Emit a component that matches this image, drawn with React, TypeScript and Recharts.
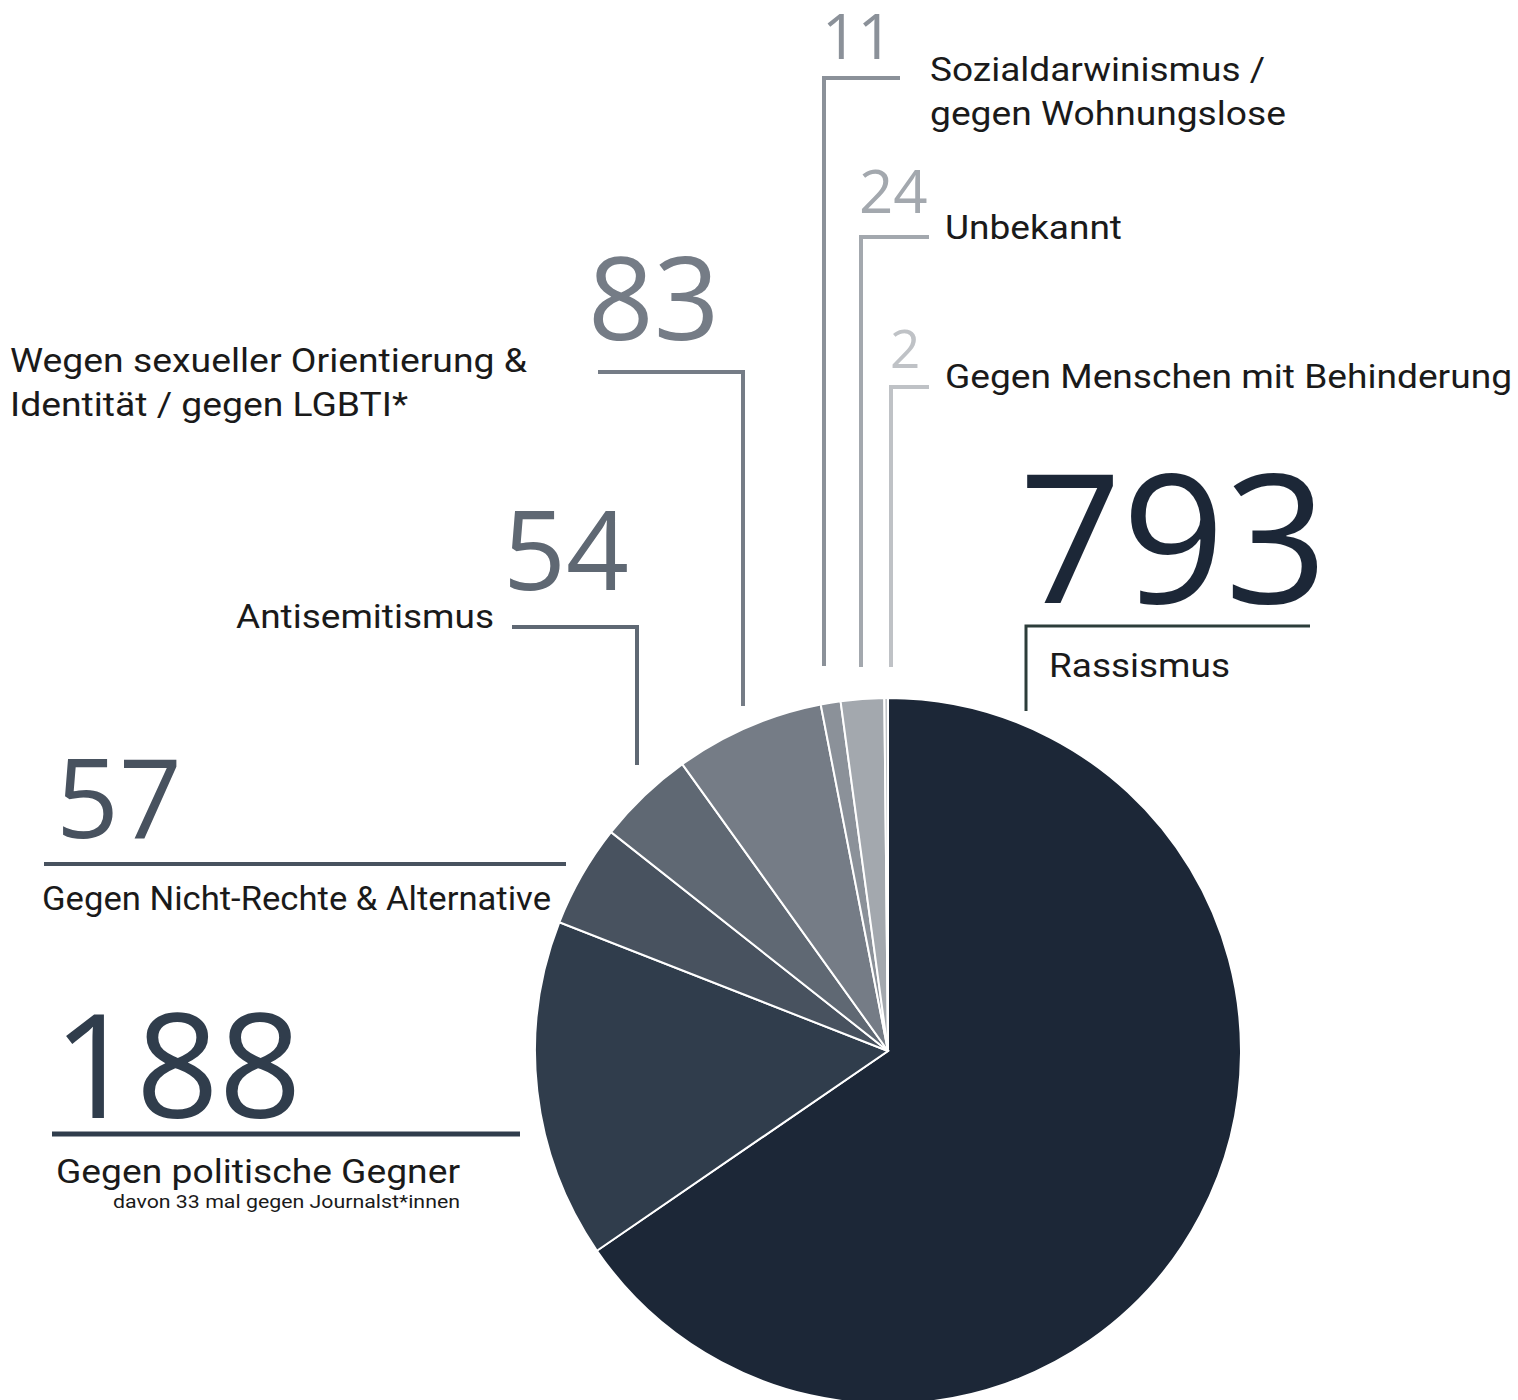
import { PieChart, Pie, Cell } from "recharts";

// Categories and counts, clockwise from 12 o'clock
const categories = [
  "Rassismus",
  "Gegen politische Gegner",
  "Gegen Nicht-Rechte & Alternative",
  "Antisemitismus",
  "Wegen sexueller Orientierung & Identität / gegen LGBTI*",
  "Sozialdarwinismus / gegen Wohnungslose",
  "Unbekannt",
  "Gegen Menschen mit Behinderung",
];
const counts = [793, 188, 57, 54, 83, 11, 24, 2];
const sliceColors = ["#1c2737", "#303d4c", "#48525f", "#5f6873", "#757c86", "#8b9199", "#a3a8ae", "#bfc2c6"];

// label text split into lines
const labelLines = [
  ["Rassismus"],
  ["Gegen politische Gegner"],
  ["Gegen Nicht-Rechte & Alternative"],
  ["Antisemitismus"],
  ["Wegen sexueller Orientierung &", "Identität / gegen LGBTI*"],
  ["Sozialdarwinismus /", "gegen Wohnungslose"],
  ["Unbekannt"],
  ["Gegen Menschen mit Behinderung"],
];
const subNote = "davon 33 mal gegen Journalst*innen";

const chartData = categories.map((name, i) => ({ name, value: counts[i] }));

/* === annotation layout (leader lines, number and label placement) === */
type TextPos = { x: number; y: number; w: number };
type Layout = {
  path: string;
  lineColor: string;
  lineWidth: number;
  num: { x: number; y: number; size: number; weight: number };
  lines: TextPos[];
};

const layout: Layout[] = [
  { path: "M1026,711 V626 H1310", lineColor: "#2c3d3a", lineWidth: 3,
    num: { x: 1019, y: 603, size: 180, weight: 400 }, lines: [{ x: 1049, y: 677, w: 181 }] },
  { path: "M52,1134 H520", lineColor: "#303d4c", lineWidth: 5,
    num: { x: 53, y: 1118, size: 145, weight: 400 }, lines: [{ x: 56, y: 1183, w: 404 }] },
  { path: "M44,864 H566", lineColor: "#48525f", lineWidth: 4,
    num: { x: 56, y: 838, size: 110, weight: 400 }, lines: [{ x: 42, y: 910, w: 509 }] },
  { path: "M512,627 H637 V765", lineColor: "#5f6873", lineWidth: 4,
    num: { x: 503, y: 590, size: 110, weight: 400 }, lines: [{ x: 236, y: 628, w: 258 }] },
  { path: "M598,372 H743 V706", lineColor: "#757c86", lineWidth: 4,
    num: { x: 588, y: 340, size: 115, weight: 400 }, lines: [{ x: 10, y: 372, w: 517 }, { x: 10, y: 416, w: 398 }] },
  { path: "M824,666 V78 H900", lineColor: "#8b9199", lineWidth: 4,
    num: { x: 822, y: 59, size: 62, weight: 500 }, lines: [{ x: 930, y: 81, w: 335 }, { x: 930, y: 125, w: 356 }] },
  { path: "M861,667 V237 H929", lineColor: "#a3a8ae", lineWidth: 4,
    num: { x: 859, y: 213, size: 60, weight: 400 }, lines: [{ x: 945, y: 239, w: 177 }] },
  { path: "M891,667 V387 H929", lineColor: "#bfc2c6", lineWidth: 4,
    num: { x: 890, y: 368, size: 53, weight: 400 }, lines: [{ x: 945, y: 388, w: 567 }] },
];

const numFont = "'Open Sans', 'DejaVu Sans', sans-serif";
const textFont = "Roboto, 'Noto Sans', sans-serif";

const renderLabel = (props: any) => {
  const i = props.index;
  const l = layout[i];
  if (!l) return null;
  return (
    <g key={`ann-${i}`}>
      <path d={l.path} fill="none" stroke={l.lineColor} strokeWidth={l.lineWidth} />
      <text x={l.num.x} y={l.num.y} fill={sliceColors[i]} fontSize={l.num.size}
        fontWeight={l.num.weight} fontFamily={numFont}>
        {counts[i]}
      </text>
      {labelLines[i].map((s, j) => (
        <text key={j} x={l.lines[j].x} y={l.lines[j].y} fill="#1a1a1a" fontSize={34}
          fontFamily={textFont} textLength={l.lines[j].w} lengthAdjust="spacingAndGlyphs">
          {s}
        </text>
      ))}
      {i === 1 && (
        <text x={460} y={1208} textAnchor="end" fill="#1a1a1a" fontSize={19}
          fontFamily={textFont} textLength={347} lengthAdjust="spacingAndGlyphs">
          {subNote}
        </text>
      )}
    </g>
  );
};

export default function App() {
  return (
    <div style={{ position: "absolute", left: 0, top: 0, width: 1518, height: 1400, background: "#fff" }}>
      <PieChart width={1518} height={1400} margin={{ top: 0, right: 0, bottom: 0, left: 0 }}>
        <Pie
          data={chartData}
          dataKey="value"
          nameKey="name"
          cx={888}
          cy={1051}
          outerRadius={353}
          startAngle={90}
          endAngle={-270}
          stroke="#ffffff"
          strokeWidth={2}
          label={renderLabel}
          labelLine={false}
          isAnimationActive={false}
        >
          {chartData.map((d, i) => (
            <Cell key={d.name} fill={sliceColors[i]} />
          ))}
        </Pie>
      </PieChart>
    </div>
  );
}
